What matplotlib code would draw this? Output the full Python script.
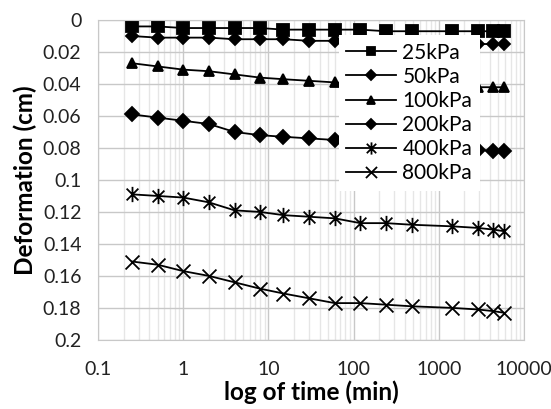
import matplotlib.pyplot as plt
import matplotlib.ticker as ticker
from matplotlib.path import Path
import numpy as np

plt.rcParams['font.family'] = ['Lato', 'DejaVu Sans']

# time (min)
time = [0.25, 0.5, 1, 2, 4, 8, 15, 30, 60, 120, 240, 480, 1440, 2880, 4320, 5760]

# deformation (cm) for each load
d25 = [0.004, 0.004, 0.005, 0.005, 0.005, 0.005, 0.006, 0.006,
       0.006, 0.006, 0.007, 0.007, 0.007, 0.007, 0.007, 0.007]
d50 = [0.010, 0.011, 0.011, 0.011, 0.012, 0.012, 0.012, 0.013,
       0.013, 0.013, 0.014, 0.014, 0.014, 0.015, 0.015, 0.015]
d100 = [0.027, 0.029, 0.031, 0.032, 0.034, 0.036, 0.037, 0.038,
        0.039, 0.040, 0.040, 0.041, 0.041, 0.042, 0.042, 0.042]
d200 = [0.059, 0.061, 0.063, 0.065, 0.070, 0.072, 0.073, 0.074,
        0.075, 0.076, 0.077, 0.078, 0.080, 0.081, 0.082, 0.082]
d400 = [0.109, 0.110, 0.111, 0.114, 0.119, 0.120, 0.122, 0.123,
        0.124, 0.127, 0.127, 0.128, 0.129, 0.130, 0.131, 0.132]
d800 = [0.151, 0.153, 0.157, 0.160, 0.164, 0.168, 0.171, 0.174,
        0.177, 0.177, 0.178, 0.179, 0.180, 0.181, 0.182, 0.183]

labels = ['25kPa', '50kPa', '100kPa', '200kPa', '400kPa', '800kPa']
series = [d25, d50, d100, d200, d400, d800]

# excel-like star marker: X with a vertical bar
star = Path([(-1, -1), (1, 1), (-1, 1), (1, -1), (0, -1.3), (0, 1.3)],
            [Path.MOVETO, Path.LINETO, Path.MOVETO, Path.LINETO, Path.MOVETO, Path.LINETO])
xmark = Path([(-1, -1), (1, 1), (-1, 1), (1, -1)],
             [Path.MOVETO, Path.LINETO, Path.MOVETO, Path.LINETO])
markers = ['s', 'D', '^', 'D', star, xmark]
sizes = [8, 6, 7.5, 7, 11, 10]

fig = plt.figure(figsize=(5.51, 4.09), dpi=100)
ax = fig.add_axes([0.178, 0.169, 0.773, 0.782])

for y, lab, m, s in zip(series, labels, markers, sizes):
    ax.plot(time, y, color='black', lw=1.3, marker=m, markersize=s,
            markerfacecolor='black', markeredgecolor='black', markeredgewidth=1.3,
            label=lab)

ax.set_xscale('log')
ax.set_xlim(0.1, 10000)
ax.set_ylim(0.2, 0)
ax.set_yticks(np.arange(0, 0.201, 0.02))
ax.yaxis.set_major_formatter(ticker.FuncFormatter(lambda v, p: f'{round(v, 2):g}'))
ax.xaxis.set_major_locator(ticker.LogLocator(base=10, numticks=10))
ax.xaxis.set_minor_locator(ticker.LogLocator(base=10, subs=np.arange(2, 10), numticks=20))
ax.xaxis.set_major_formatter(ticker.FuncFormatter(lambda v, p: f'{v:g}'))
ax.xaxis.set_minor_formatter(ticker.NullFormatter())

ax.grid(True, which='major', color='#c8c8c8', lw=1.0)
ax.grid(True, which='minor', axis='x', color='#e6e6e6', lw=1.0)
ax.set_axisbelow(True)
for sp in ax.spines.values():
    sp.set_color('#c8c8c8')
ax.tick_params(which='both', length=0, labelsize=14, colors='#222222')
ax.tick_params(axis='y', pad=12)
ax.tick_params(axis='x', pad=15)

ax.set_xlabel('log of time (min)', fontsize=17.5, fontweight='bold', labelpad=2)
ax.set_ylabel('Deformation (cm)', fontsize=17.5, fontweight='bold', labelpad=4)

leg = ax.legend(loc='upper right', bbox_to_anchor=(0.92, 0.985), fontsize=15,
                frameon=True, fancybox=False, edgecolor='none', framealpha=1,
                handlelength=2.4, handletextpad=0.3, labelspacing=0.2,
                borderpad=0.35, numpoints=1, markerscale=0.8)

fig.savefig('out.png', dpi=100)
